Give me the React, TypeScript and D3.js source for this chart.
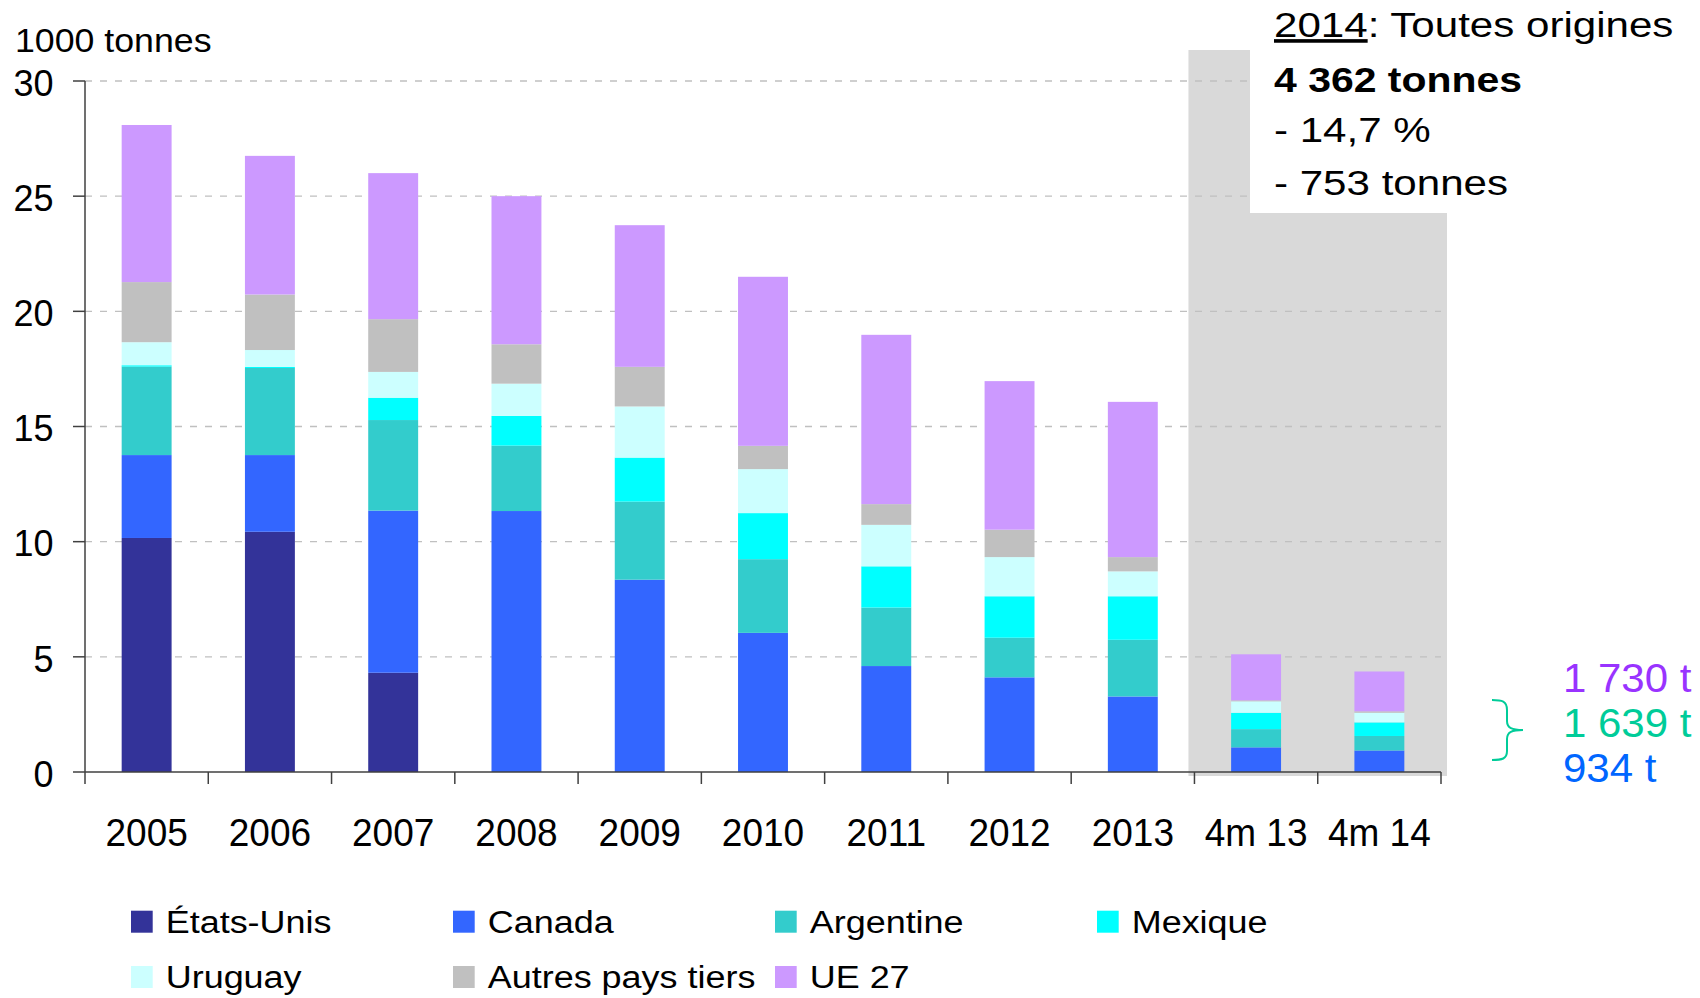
import React from 'react';
import * as d3 from 'd3';

const FONT = '"Liberation Sans", Arial, Helvetica, sans-serif';

const categories = ['2005', '2006', '2007', '2008', '2009', '2010', '2011', '2012', '2013', '4m 13', '4m 14'];

// 1000 tonnes
const etatsUnis = [10.16, 10.43, 4.31, 0, 0, 0, 0, 0, 0, 0, 0];
const canada = [3.6, 3.33, 7.04, 11.33, 8.35, 6.04, 4.6, 4.11, 3.28, 1.07, 0.934];
const argentine = [3.84, 3.78, 3.93, 2.84, 3.39, 3.2, 2.54, 1.72, 2.46, 0.79, 0.63];
const mexique = [0.06, 0.05, 0.97, 1.29, 1.91, 2.0, 1.79, 1.8, 1.89, 0.71, 0.59];
const uruguay = [1.0, 0.73, 1.12, 1.4, 2.22, 1.91, 1.8, 1.7, 1.08, 0.5, 0.42];
const autres = [2.61, 2.41, 2.29, 1.71, 1.72, 1.01, 0.9, 1.19, 0.62, 0.04, 0.06];
const ue27 = [6.82, 6.02, 6.34, 6.43, 6.15, 7.34, 7.35, 6.45, 6.74, 2.0, 1.73];

const seriesNames = ['États-Unis', 'Canada', 'Argentine', 'Mexique', 'Uruguay', 'Autres pays tiers', 'UE 27'];
const seriesValues = [etatsUnis, canada, argentine, mexique, uruguay, autres, ue27];
const seriesColors = ['#333399', '#3366FF', '#33CCCC', '#00FFFF', '#CCFFFF', '#C0C0C0', '#CC99FF'];

const yTicks = [0, 5, 10, 15, 20, 25, 30];

const sideLabels = ['1 730 t', '1 639 t', '934 t'];
const sideColors = ['#9933FF', '#00CC99', '#0066FF'];

// stretched text helper (the source text is slightly distorted)
const SText = ({ x, y, size, sx = 1, sy = 1, anchor = 'start', weight = 'normal', fill = '#000', children }: any) => (
  <text
    transform={`translate(${x},${y}) scale(${sx},${sy})`}
    fontSize={size}
    fontFamily={FONT}
    fontWeight={weight}
    textAnchor={anchor}
    fill={fill}
  >
    {children}
  </text>
);

export default function App() {
  const width = 1700;
  const height = 998;
  const left = 85, right = 1441, top = 81, bottom = 772;

  const x = d3.scaleBand<string>().domain(categories).range([left, right]);
  const y = d3.scaleLinear().domain([0, 30]).range([bottom, top]);
  const barW = x.bandwidth() * 0.405;

  const rows = categories.map((c, i) => {
    const r: any = { cat: c };
    seriesNames.forEach((n, k) => (r[n] = seriesValues[k][i]));
    return r;
  });
  const stacked = d3.stack<any>().keys(seriesNames)(rows);

  // shaded zone behind the 4-month bars
  const gx0 = (x('4m 13') as number) - 6;
  const gx1 = right + 6;
  const gTop = y(30) - 31;
  const notchX = 1250, notchY = 213;

  const bounds = categories.map((c) => x(c) as number).concat([right]);

  const legendCols = [131, 453, 775, 1097];
  const legendRows = [910.7, 966];

  return (
    <svg width={width} height={height} style={{ position: 'absolute', left: 0, top: 0, background: '#fff' }}>
      <path
        d={`M${gx0},${gTop}H${notchX}V${notchY}H${gx1}V${bottom + 4}H${gx0}Z`}
        fill="#D9D9D9"
      />

      {yTicks.filter((t) => t > 0).map((t) => (
        <line key={t} x1={left} x2={right} y1={y(t)} y2={y(t)}
          stroke="#C0C0C0" strokeWidth={1.4} strokeDasharray="7,8" />
      ))}

      <rect x={notchX} y={0} width={width - notchX} height={notchY} fill="#fff" />

      {stacked.map((s, k) => (
        <g key={s.key} fill={seriesColors[k]}>
          {s.map((d, i) => (
            d[1] - d[0] > 0 ? (
              <rect key={i}
                x={(x(categories[i]) as number) + (x.bandwidth() - barW) / 2}
                y={y(d[1])}
                width={barW}
                height={y(d[0]) - y(d[1])} />
            ) : null
          ))}
        </g>
      ))}

      {/* axes */}
      <line x1={left} x2={left} y1={top} y2={bottom} stroke="#404040" strokeWidth={1.5} />
      <line x1={left} x2={right} y1={bottom} y2={bottom} stroke="#404040" strokeWidth={1.5} />
      {yTicks.map((t) => (
        <g key={t}>
          <line x1={left - 12} x2={left} y1={y(t)} y2={y(t)} stroke="#404040" strokeWidth={1.5} />
          <SText x={53.5} y={y(t) + 14.7} size={36} sy={1.03} anchor="end">{t}</SText>
        </g>
      ))}
      {bounds.map((b, i) => (
        <line key={i} x1={b} x2={b} y1={bottom} y2={bottom + 12} stroke="#404040" strokeWidth={1.5} />
      ))}
      {categories.map((c) => (
        <SText key={c} x={(x(c) as number) + x.bandwidth() / 2} y={845.7} size={37} sy={1.07} anchor="middle">{c}</SText>
      ))}

      <SText x={15} y={52.3} size={34} sx={1.05}>1000 tonnes</SText>

      {/* summary box */}
      <SText x={1274} y={37.3} size={36} sx={1.17}>
        <tspan style={{ textDecoration: 'underline' }}>2014</tspan>: Toutes origines
      </SText>
      <SText x={1274} y={91.7} size={35} sx={1.17} weight="bold">4 362 tonnes</SText>
      <SText x={1274} y={141.7} size={36} sx={1.17}>- 14,7 %</SText>
      <SText x={1274} y={195} size={36} sx={1.17}>- 753 tonnes</SText>

      {/* side labels for 4m 14 */}
      <path
        d="M1492,700 C1502,700 1507,701 1507,710 L1507,721 C1507,728 1512,730 1523,730 C1512,730 1507,732 1507,739 L1507,751 C1507,759 1502,760 1492,760"
        fill="none" stroke="#00CC99" strokeWidth={2} />
      {sideLabels.map((l, i) => (
        <SText key={l} x={1563} y={691.7 + i * 45} size={40} sx={1.05} fill={sideColors[i]}>{l}</SText>
      ))}

      {/* legend */}
      {seriesNames.map((n, i) => {
        const row = i < 4 ? 0 : 1;
        const lx = legendCols[i < 4 ? i : i - 4];
        const ly = legendRows[row];
        return (
          <g key={n}>
            <rect x={lx} y={ly} width={21.7} height={22} fill={seriesColors[i]} />
            <SText x={lx + 34.7} y={ly + 22} size={31} sx={1.16}>{n}</SText>
          </g>
        );
      })}
    </svg>
  );
}
